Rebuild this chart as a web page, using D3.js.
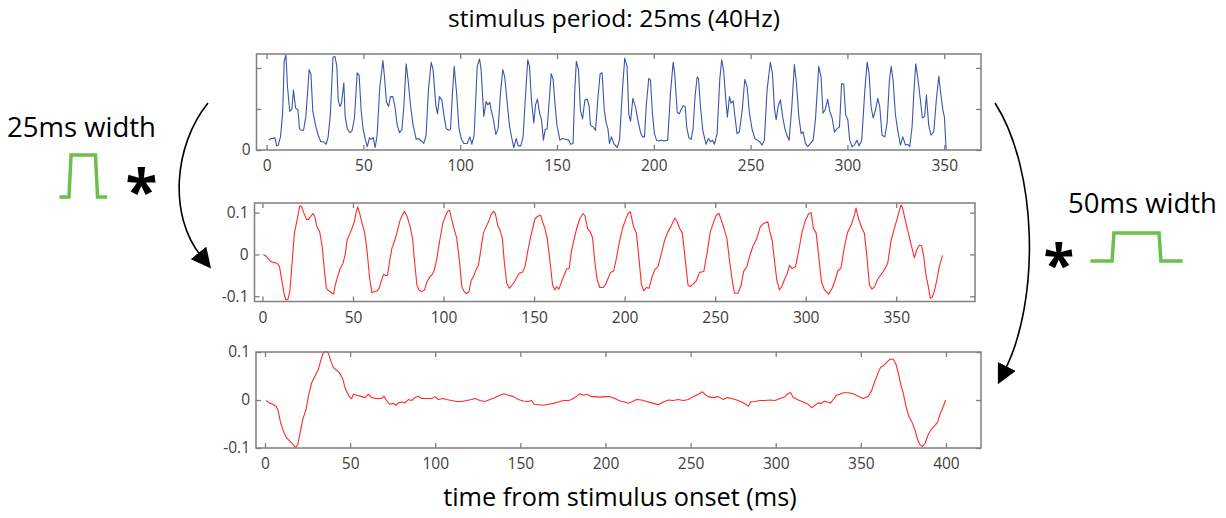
<!DOCTYPE html>
<html>
<head>
<meta charset="utf-8">
<script src="https://cdn.jsdelivr.net/npm/d3@7"></script>
<style>
  body { margin: 0; background: #fff; }
  svg { display: block; font-family: "Open Sans", sans-serif; }
</style>
</head>
<body>
<svg id="chart" width="1226" height="518"></svg>
<script>
// ---- data: [time (ms), value] ----

// stimulus response (blue, arbitrary rate units, ticks at 0/50/100)
const stimTrace = [[1.2,12],[2,14],[3.3,14],[4.3,15],[5.2,5],[6,6],[7.2,16],[8.3,45],[9.1,108],[10,116],[10.8,77],[12,47],[13.1,50],[13.9,73],[15,51],[16.2,49],[17,26],[18,24],[19.1,24],[20.3,41],[22,98],[22.9,93],[23.9,47],[25.3,30],[26.7,18],[28,10],[29.6,10],[30.8,7],[31.8,16],[33,45],[34.3,113],[35.3,114],[36.3,102],[37,61],[37.9,53],[38.7,57],[39.9,82],[40.6,41],[41.7,26],[43,21],[44.2,24],[45.4,39],[46.8,94],[47.8,91],[48.9,47],[49.9,25],[51.1,12],[52,4],[53.2,15],[54,13],[55.1,15],[56.1,3],[57.1,18],[58.5,77],[60.1,109],[60.9,89],[61.9,59],[63,53],[64,65],[65.2,65],[66.3,53],[67.5,30],[68.7,21],[69.9,25],[70.9,53],[72.1,105],[73.1,85],[74.4,53],[75.7,30],[77.3,13],[78.5,14],[79.9,11],[81.2,8],[82.4,18],[83.6,73],[85,107],[86,98],[87.4,55],[88.3,44],[89.3,65],[90.5,61],[91.7,41],[92.8,26],[94,24],[95,25],[96,69],[96.9,102],[98.1,71],[99.3,28],[100.5,14],[101.9,8],[103.6,8],[105,16],[106,7],[107.2,18],[108.8,102],[110,111],[110.8,98],[112.2,41],[113.4,59],[114.3,55],[115.3,58],[116,49],[117,39],[118.4,19],[119.6,26],[120.8,69],[122,98],[123,89],[124.3,57],[125.5,29],[126.7,14],[127.7,3],[128.9,14],[130,5],[131.3,5],[132.5,16],[133.7,65],[134.9,110],[135.8,102],[136.8,61],[138,33],[138.9,55],[139.9,62],[141,45],[142,37],[143,12],[143.9,25],[144.9,26],[145.9,57],[147,93],[148,86],[149,55],[150,30],[151.5,12],[152.7,14],[154.4,13],[156.1,12],[157,7],[158.3,8],[159.2,73],[160,108],[161.1,98],[162.1,49],[163.2,38],[164.4,61],[165.6,62],[166.6,53],[167.3,30],[168.7,28],[169.9,24],[171.2,65],[172.3,93],[173.3,94],[174.4,49],[175.4,33],[176.3,26],[177.1,8],[178.1,16],[179.3,8],[181.1,3],[182.3,12],[183.8,73],[185,112],[186.2,102],[187.1,43],[188,35],[189.2,63],[190.7,51],[191.7,37],[193.1,22],[194.1,16],[195.2,16],[196.2,57],[197.4,87],[198.3,85],[199.3,45],[200.3,20],[201.4,12],[202.6,11],[203.8,12],[205.2,11],[207.2,12],[208.6,69],[210,107],[210.8,93],[212.1,46],[213.1,44],[214.1,49],[215.2,54],[216.2,53],[217,28],[218.1,15],[219.3,13],[220.3,26],[221.3,65],[222.4,89],[223.1,87],[224.1,53],[225.3,24],[227,7],[228.2,14],[229.3,10],[230.3,12],[231.3,7],[232.7,20],[234.1,87],[235.1,110],[236.1,96],[237,67],[238,40],[239.1,65],[239.9,57],[241,60],[241.8,43],[243,20],[244.2,22],[245.6,47],[247,86],[248.2,77],[249.4,45],[250.8,25],[252.2,14],[253.4,12],[254.7,10],[256,6],[257.1,12],[258.5,73],[260.2,107],[261.3,93],[262.3,51],[263.2,37],[264.2,53],[265.4,61],[266.6,40],[267.8,25],[268.9,17],[269.9,12],[271.3,53],[272.6,104],[273.7,81],[274.9,41],[276.1,20],[277.1,22],[278.3,8],[279.5,4],[280.9,8],[282.3,12],[283.5,37],[285.2,102],[286.4,89],[287.4,45],[288.5,49],[289.8,62],[290.9,47],[292.1,39],[293.3,22],[294.7,26],[295.9,28],[297,81],[298.1,80],[299.1,43],[300.2,37],[301.2,12],[302.4,4],[303.6,6],[305,12],[306,5],[307.4,12],[309,73],[310.2,107],[311.2,93],[312.2,53],[313.3,39],[314.5,49],[315.7,63],[316.7,53],[317.9,18],[319.3,16],[320.5,33],[321.7,85],[322.6,102],[323.6,85],[324.8,43],[326,24],[327.4,6],[328.6,16],[330,6],[331.2,7],[332.2,4],[333.4,28],[334.3,69],[335.3,105],[336.3,89],[337.7,61],[338.7,39],[339.9,41],[340.8,67],[342,30],[343.2,18],[344.6,22],[346,63],[347.2,90],[348.1,71],[349.3,49],[350.1,40],[351,0]];

// convolved with 25ms pulse (red)
const conv25 = [[0.5,0],[1.7,-0.003],[2.9,-0.009],[4.4,-0.016],[5.9,-0.019],[8.1,-0.021],[9.4,-0.029],[10.8,-0.065],[12.1,-0.097],[13,-0.109],[14.1,-0.107],[15.1,-0.089],[16.4,-0.018],[17.6,0.05],[19.1,0.082],[20.6,0.116],[21.5,0.115],[22.8,0.1],[24.3,0.084],[25.5,0.084],[26.8,0.092],[27.9,0.098],[28.8,0.092],[30.1,0.066],[31.6,0.054],[32.9,0.022],[34.2,-0.038],[35.3,-0.081],[36.6,-0.087],[38,-0.091],[39.3,-0.095],[40.2,-0.073],[41.5,-0.053],[43,-0.033],[44.5,-0.021],[45.8,0.002],[46.7,0.034],[48.1,0.048],[49.4,0.062],[50.7,0.078],[51.8,0.102],[52.6,0.114],[53.7,0.098],[55,0.074],[56.4,0.053],[57.7,0.011],[59.2,-0.057],[60.5,-0.092],[61.9,-0.088],[63.2,-0.088],[64.5,-0.08],[65.6,-0.064],[66.9,-0.047],[68.2,-0.051],[69.1,-0.049],[70.2,-0.017],[71.5,0.015],[72.9,0.031],[74.2,0.051],[75.7,0.078],[77,0.092],[78.3,0.103],[79.8,0.092],[81.6,0.066],[82.9,0.038],[84,-0.017],[85.3,-0.073],[86.5,-0.085],[88,-0.089],[89.5,-0.085],[90.8,-0.066],[92.2,-0.055],[93.5,-0.049],[94.8,-0.039],[96.3,-0.01],[97.8,0.031],[99.6,0.075],[100.9,0.09],[102.2,0.103],[103.3,0.106],[104.6,0.082],[105.8,0.062],[107.3,0.039],[108.8,-0.017],[110.1,-0.077],[111.5,-0.09],[112.8,-0.094],[114.1,-0.089],[115.2,-0.063],[116.5,-0.053],[117.9,-0.037],[119.3,-0.025],[120.5,0.008],[122,0.051],[123.5,0.066],[124.8,0.078],[126.1,0.094],[127.5,0.103],[128.6,0.098],[129.9,0.07],[131.2,0.058],[132.5,0.038],[133.6,-0.021],[134.9,-0.069],[136.3,-0.081],[137.6,-0.075],[139.1,-0.066],[140.4,-0.055],[141.9,-0.045],[143.7,-0.042],[145,-0.029],[146.3,0.003],[147.7,0.034],[149.2,0.062],[150.5,0.086],[152.3,0.092],[153.6,0.094],[154.7,0.078],[156,0.062],[157.3,0.038],[158.8,-0.017],[160.2,-0.073],[161.5,-0.085],[162.4,-0.077],[163.7,-0.083],[165.2,-0.065],[166.7,-0.049],[168,-0.035],[169.4,-0.033],[170.7,0.01],[172.2,0.038],[173.5,0.062],[175.3,0.086],[177.1,0.098],[178.2,0.092],[179.5,0.062],[180.8,0.056],[182.3,0.04],[183.6,-0.02],[184.8,-0.06],[186.3,-0.079],[188.2,-0.079],[189.6,-0.071],[190.9,-0.057],[192.2,-0.043],[194,-0.039],[195.5,-0.009],[197,0.027],[198.8,0.062],[200.6,0.084],[201.9,0.098],[203.2,0.102],[204.7,0.07],[206.5,0.051],[208,-0.013],[209.3,-0.073],[210.6,-0.087],[212,-0.079],[213.5,-0.081],[214.9,-0.057],[216.6,-0.037],[218.4,-0.029],[220.3,0.002],[222.1,0.034],[223.9,0.054],[225.5,0.066],[226.7,0.078],[227.8,0.087],[228.9,0.079],[230.4,0.062],[231.9,0.051],[233.4,-0.009],[235,-0.073],[236.3,-0.077],[237.8,-0.071],[239.6,-0.063],[241.4,-0.043],[243.7,-0.041],[245.5,0.002],[247.3,0.054],[249.2,0.078],[250.6,0.094],[252.1,0.098],[253.4,0.082],[254.9,0.062],[256.5,0.038],[258,-0.017],[259.5,-0.065],[260.7,-0.093],[262.6,-0.093],[264.4,-0.073],[265.7,-0.041],[267.5,-0.029],[269,-0.005],[270.8,0.019],[272.7,0.035],[274.9,0.066],[276.7,0.074],[279.1,0.078],[280,0.058],[281.5,0.034],[282.8,-0.017],[284,-0.06],[285.5,-0.085],[287,-0.075],[288.3,-0.06],[289.6,-0.048],[291.1,-0.026],[292.5,-0.034],[294.4,-0.029],[296.2,0.01],[298,0.054],[299.9,0.082],[301.7,0.098],[303,0.1],[304.3,0.062],[305.8,0.051],[307.2,-0.005],[308.7,-0.065],[310.4,-0.085],[312.7,-0.095],[314.6,-0.081],[316.4,-0.06],[317.7,-0.039],[319.5,-0.033],[321.4,0.019],[323.2,0.054],[325.1,0.07],[326.9,0.094],[327.8,0.111],[329.3,0.084],[331.1,0.062],[332.4,0.051],[333.9,-0.009],[335.2,-0.073],[336.6,-0.083],[338.1,-0.077],[339.7,-0.06],[341.6,-0.048],[343.4,-0.037],[345.3,-0.021],[347.1,0.031],[348.9,0.062],[350.8,0.09],[352.6,0.118],[353.5,0.111],[355,0.082],[356.3,0.058],[357.6,0.035],[359,0.01],[360,-0.008],[361.2,0.01],[362.7,0.022],[364,0.021],[365.1,-0.002],[366.4,-0.049],[367.9,-0.081],[368.8,-0.105],[369.7,-0.103],[371,-0.089],[372.5,-0.06],[373.8,-0.029],[375.6,-0.002]];

// convolved with 50ms pulse (red)
const conv50 = [[0.6,-0.001],[2.5,-0.006],[4.5,-0.009],[6.5,-0.013],[7.8,-0.023],[9.2,-0.048],[10.8,-0.065],[12.7,-0.079],[14.7,-0.086],[16.6,-0.093],[18,-0.099],[19.2,-0.093],[20.6,-0.069],[22.1,-0.041],[24.1,-0.02],[25.5,0.008],[27.4,0.036],[29.4,0.05],[31.3,0.064],[32.7,0.082],[34.3,0.099],[35.8,0.101],[37.2,0.098],[38.6,0.082],[40.1,0.068],[41.7,0.063],[43.7,0.057],[45.6,0.045],[47,0.026],[48.4,0.014],[49.9,0.005],[50.9,0.003],[51.9,0.012],[53.8,0.01],[56.8,0.007],[58.7,0.005],[60.7,0.012],[62.7,0.005],[65.6,0.003],[68.5,0.003],[69.9,0.008],[71.5,-0.002],[73.4,-0.009],[75.4,-0.007],[76.9,-0.011],[78.3,-0.006],[80.3,-0.004],[82.2,-0.006],[84.2,0.001],[86.1,-0.001],[88.1,0.005],[90,0.008],[92,0.003],[95,0.003],[97.9,0.003],[99.9,0.007],[101.8,0.001],[104.7,0.003],[106.7,0.001],[109.6,-0.001],[112.6,-0.003],[115.5,-0.003],[118.5,-0.001],[121.4,0.001],[123.3,0.003],[126.3,-0.001],[129.2,-0.003],[132.2,0.001],[135.1,0.005],[138,0.01],[140.4,0.013],[142.9,0.01],[145.9,0.007],[148.8,0.001],[151.7,-0.002],[154.7,-0.003],[156.6,-0.001],[158,-0.009],[160.5,-0.01],[163.5,-0.011],[166.4,-0.009],[169.4,-0.007],[172.3,-0.004],[175.2,-0.001],[178.2,-0.001],[180.1,0.001],[183.1,0.008],[185,0.013],[187,0.01],[189,0.012],[191.9,0.007],[193.8,0.007],[196.8,0.006],[199.7,0.007],[202.6,0.007],[205.6,0.003],[208.5,-0.002],[211.5,-0.004],[213.4,-0.007],[215.4,-0.004],[218.3,0.001],[221.2,0],[224.2,-0.003],[228.1,-0.007],[231,-0.01],[234,-0.004],[236.9,0],[239.8,-0.001],[242.8,0.001],[245.7,-0.001],[248.7,0.001],[251.6,0.007],[254.5,0.012],[256.9,0.017],[258.4,0.012],[260.4,0.007],[263.3,0.005],[266.3,0.007],[269.2,0.001],[271.6,0.005],[274.1,0.003],[277.1,0],[280,-0.004],[282.5,-0.009],[283.9,-0.013],[285.3,-0.004],[287.8,-0.003],[290.8,-0.001],[293.7,-0.001],[296.6,0],[299.6,-0.001],[302.5,0.003],[305.4,0.007],[307.4,0.014],[308.8,0.015],[310.3,0.005],[313.3,0],[316.2,-0.004],[319.1,-0.009],[321.1,-0.016],[323.1,-0.011],[325,-0.006],[327,-0.007],[328.5,-0.002],[330.3,-0.004],[332.3,-0.006],[333.8,0.001],[335.8,0.01],[337.7,0.012],[339.7,0.015],[342.6,0.015],[345.6,0.013],[348.5,0.008],[351.4,0.003],[354.4,0.008],[356.3,0.019],[358.3,0.04],[360.2,0.057],[361.6,0.068],[363.2,0.071],[365.1,0.078],[367.1,0.085],[369.1,0.085],[370.6,0.075],[372,0.057],[373.4,0.033],[374.9,0.015],[376.5,-0.013],[378.3,-0.035],[379.8,-0.044],[381.8,-0.062],[383.4,-0.083],[384.7,-0.093],[386.3,-0.097],[387.7,-0.09],[389.6,-0.072],[391.6,-0.06],[393.6,-0.053],[395.1,-0.046],[396.5,-0.03],[398.5,-0.013],[399.8,0]];

// tick values / labels
const xTicks350 = [0, 50, 100, 150, 200, 250, 300, 350];
const xTicks400 = [0, 50, 100, 150, 200, 250, 300, 350, 400];
const stimYTicks = [0, 50, 100];
const stimYLabels = ["0", "", ""];
const convYTicks = [-0.1, 0, 0.1];
const convYLabels = ["-0.1", "0", "0.1"];

// kernels: [time (ms), level]
const pulse25 = [[-10, 0], [-1, 0], [1, 1], [24, 1], [26, 0], [35, 0]];
const pulse50 = [[-24, 0], [-1, 0], [1, 1], [49, 1], [51, 0], [74, 0]];

const svg = d3.select("#chart");
const boxColor = "#7f7f7f";

function panel(o) {
  const x = d3.scaleLinear().domain(o.xDomain).range([o.left, o.right]);
  const y = d3.scaleLinear().domain(o.yDomain).range([o.bottom, o.top]);
  const g = svg.append("g");

  g.append("path")
    .datum(o.data)
    .attr("fill", "none")
    .attr("stroke", o.color)
    .attr("stroke-width", 1.1)
    .attr("stroke-linejoin", "round")
    .attr("d", d3.line().x(d => x(d[0])).y(d => y(d[1])));

  const styleAxis = sel => {
    sel.select(".domain").remove();
    sel.selectAll(".tick line").attr("stroke", boxColor).attr("stroke-width", 1.3);
    sel.selectAll(".tick text")
      .attr("fill", "#404040")
      .style("font-size", "15.5px")
      .style("font-family", "Open Sans");
  };

  g.append("g").attr("transform", `translate(0,${o.bottom})`)
    .call(d3.axisBottom(x).tickValues(o.xTicks).tickSize(-5).tickPadding(10))
    .call(styleAxis);
  g.append("g").attr("transform", `translate(0,${o.top})`)
    .call(d3.axisTop(x).tickValues(o.xTicks).tickSize(-5).tickFormat(""))
    .call(styleAxis);
  g.append("g").attr("transform", `translate(${o.left},0)`)
    .call(d3.axisLeft(y).tickValues(o.yTicks).tickSize(-5).tickPadding(6)
      .tickFormat((d, i) => o.yLabels[i]))
    .call(styleAxis);
  g.append("g").attr("transform", `translate(${o.right},0)`)
    .call(d3.axisRight(y).tickValues(o.yTicks).tickSize(-5).tickFormat(""))
    .call(styleAxis);

  g.append("rect")
    .attr("x", o.left).attr("y", o.top)
    .attr("width", o.right - o.left).attr("height", o.bottom - o.top)
    .attr("fill", "none").attr("stroke", boxColor).attr("stroke-width", 1.5);
}

panel({ data: stimTrace, color: "#3b55ad", left: 256.5, right: 981, top: 54, bottom: 150,
  xDomain: [-5.2, 369], yDomain: [0, 117], xTicks: xTicks350,
  yTicks: stimYTicks, yLabels: stimYLabels });

panel({ data: conv25, color: "#ff2a2a", left: 254.5, right: 975, top: 203, bottom: 301.5,
  xDomain: [-4.4, 393.5], yDomain: [-0.1126, 0.1231], xTicks: xTicks350,
  yTicks: convYTicks, yLabels: convYLabels });

panel({ data: conv50, color: "#ff2a2a", left: 256, right: 981, top: 352, bottom: 448,
  xDomain: [-5.3, 420.6], yDomain: [-0.1, 0.1], xTicks: xTicks400,
  yTicks: convYTicks, yLabels: convYLabels });

// titles
svg.append("text")
  .attr("x", 614).attr("y", 27)
  .attr("text-anchor", "middle")
  .style("font-size", "24.5px")
  .text("stimulus period: 25ms (40Hz)");

svg.append("text")
  .attr("x", 620).attr("y", 506)
  .attr("text-anchor", "middle")
  .style("font-size", "25.3px")
  .text("time from stimulus onset (ms)");

// kernel annotations
svg.append("text").attr("x", 7).attr("y", 137).style("font-size", "27.5px").text("25ms width");
svg.append("text").attr("x", 1068).attr("y", 213).style("font-size", "27.5px").text("50ms width");

const pulseLine = (data, x0, pxPerMs, yBase, yTop) => {
  const x = d3.scaleLinear().domain([0, 1]).range([x0, x0 + pxPerMs]);
  const y = d3.scaleLinear().domain([0, 1]).range([yBase, yTop]);
  svg.append("path")
    .datum(data)
    .attr("fill", "none")
    .attr("stroke", "#6cbf4a")
    .attr("stroke-width", 3.5)
    .attr("d", d3.line().x(d => x(d[0])).y(d => y(d[1])));
};
pulseLine(pulse25, 70, 1.06, 197, 155);
pulseLine(pulse50, 1113, 0.94, 261, 233);

// big bold asterisks, sized by their ink box
function star(cx, cy, inkH) {
  const ctx = document.createElement("canvas").getContext("2d");
  ctx.font = "bold 100px 'Open Sans'";
  const m = ctx.measureText("*");
  const h = m.actualBoundingBoxAscent + m.actualBoundingBoxDescent;
  const k = inkH / h;
  const midX = (m.actualBoundingBoxRight - m.actualBoundingBoxLeft) / 2 * k;
  const midY = (m.actualBoundingBoxAscent - m.actualBoundingBoxDescent) / 2 * k;
  svg.append("text")
    .attr("x", cx - midX).attr("y", cy + midY)
    .style("font-size", `${100 * k}px`)
    .style("font-weight", "bold")
    .text("*");
}
star(141.5, 181.5, 28);
star(1059, 254.5, 27);

// curved arrows
svg.append("defs").append("marker")
  .attr("id", "head")
  .attr("viewBox", "0 0 10 10")
  .attr("refX", 2).attr("refY", 5)
  .attr("markerWidth", 20).attr("markerHeight", 20)
  .attr("markerUnits", "userSpaceOnUse")
  .attr("orient", "auto")
  .append("path").attr("d", "M0,0 L10,5 L0,10 Z").attr("fill", "#000");

svg.append("path")
  .attr("d", "M208,103 C174,145 168,215 201,256")
  .attr("fill", "none").attr("stroke", "#000").attr("stroke-width", 1.6)
  .attr("marker-end", "url(#head)");

svg.append("path")
  .attr("d", "M995,103 C1038,170 1040,300 1005,370")
  .attr("fill", "none").attr("stroke", "#000").attr("stroke-width", 1.6)
  .attr("marker-end", "url(#head)");
</script>
</body>
</html>
